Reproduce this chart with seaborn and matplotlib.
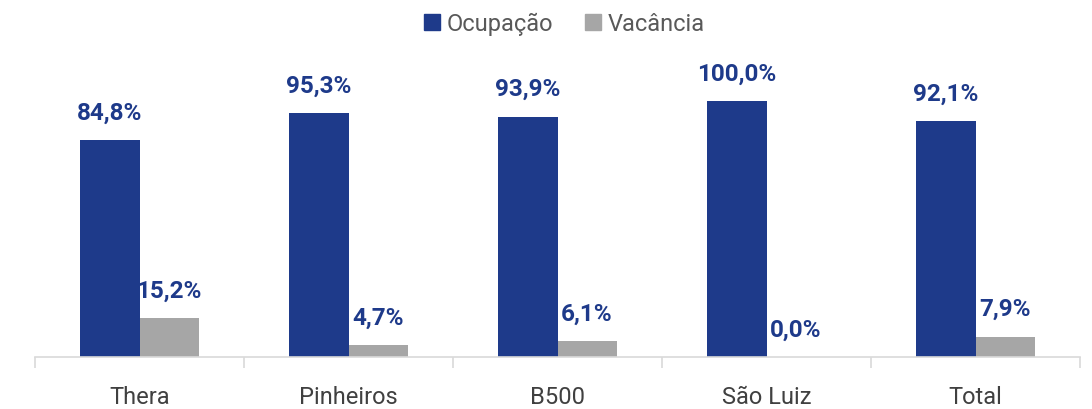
import numpy as np
import pandas as pd
import matplotlib
matplotlib.use("Agg")
import matplotlib.pyplot as plt
import seaborn as sns
from matplotlib.lines import Line2D

# ---------------------------------------------------------------------------
# Data
# ---------------------------------------------------------------------------
categories = ["Thera", "Pinheiros", "B500", "São Luiz", "Total"]
ocupacao   = [84.8, 95.3, 93.9, 100.0, 92.1]
vacancia   = [15.2, 4.7, 6.1, 0.0, 7.9]
series     = ["Ocupação", "Vacância"]

NAVY = "#1E3A8A"
GRAY = "#A6A6A6"

df = pd.DataFrame({
    "categoria": categories * 2,
    "serie":     [series[0]] * len(categories) + [series[1]] * len(categories),
    "valor":     ocupacao + vacancia,
})

sns.set_style("white")
plt.rcParams["font.family"] = ["Roboto", "DejaVu Sans"]

fig = plt.figure(figsize=(10.92, 4.10), dpi=100)
ax = fig.add_axes([35 / 1092, 52 / 410, 1045 / 1092, 302 / 410])

sns.barplot(data=df, x="categoria", y="valor", hue="serie",
            palette=[NAVY, GRAY], width=0.565, ax=ax, legend=False,
            saturation=1, linewidth=0)

for cont in ax.containers:
    ax.bar_label(cont, labels=[f"{v:.1f}%".replace(".", ",") for v in cont.datavalues],
                 padding=12, fontsize=17.5, fontweight="bold", color=NAVY)

ax.set_ylim(0, 118)
ax.set_xlim(-0.5, len(categories) - 0.5)
ax.set_xlabel("")
ax.set_ylabel("")
ax.set_yticks([])
for s in ["top", "right", "left"]:
    ax.spines[s].set_visible(False)
ax.spines["bottom"].set_color("#D9D9D9")
ax.spines["bottom"].set_linewidth(1.2)

# separators between categories
ax.set_xticks(np.arange(-0.5, len(categories)), minor=True)
ax.tick_params(axis="x", which="minor", bottom=True, length=8, width=1.2,
               color="#D9D9D9")
ax.tick_params(axis="x", which="major", bottom=False, length=0, pad=20,
               labelsize=17, labelcolor="#404040")

handles = [Line2D([], [], marker="s", linestyle="", markersize=12,
                  markerfacecolor=c, markeredgecolor=c) for c in [NAVY, GRAY]]
fig.legend(handles, series, loc="upper center", bbox_to_anchor=(0.515, 1.02),
           ncol=2, frameon=False, fontsize=17, labelcolor="#595959",
           handletextpad=0.1, columnspacing=1.2, handlelength=1.0)

fig.savefig("out.png", dpi=100)
